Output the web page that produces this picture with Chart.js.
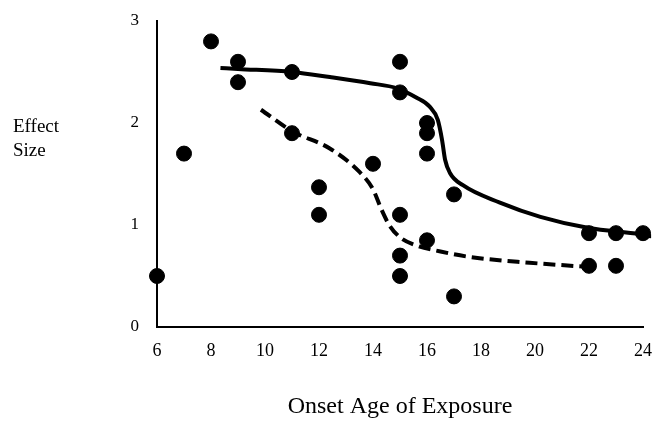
<!DOCTYPE html>
<html>
<head>
<meta charset="utf-8">
<script src="https://cdn.jsdelivr.net/npm/chart.js@4"></script>
<style>
  body { margin: 0; background: #fff; }
  #wrap { position: relative; width: 666px; height: 421px; }
  #ylab { position: absolute; left: 13px; top: 114px; font: 19px "Liberation Serif", serif; line-height: 24px; color: #000; }
</style>
</head>
<body>
<div id="wrap">
  <canvas id="chart" width="666" height="421"></canvas>
  <div id="ylab">Effect<br>Size</div>
</div>
<script>
// observed studies
var ageX = [6, 7, 8, 9, 9, 11, 11, 12, 12, 14, 15, 15, 15, 15, 15, 16, 16, 16, 16, 17, 17, 22, 22, 23, 23, 24];
var effect = [0.5, 1.7, 2.8, 2.6, 2.4, 2.5, 1.9, 1.37, 1.1, 1.6, 2.6, 2.3, 1.1, 0.7, 0.5, 2.0, 1.9, 1.7, 0.85, 1.3, 0.3, 0.92, 0.6, 0.92, 0.6, 0.92];

// fitted curves
var solidX = [8.35, 9, 11, 12.4, 13.9, 14.9, 15.6, 16.1, 16.4, 16.56, 16.67, 16.85, 17.33, 18.7, 20.2, 22, 23.9, 24.3, 24.6];
var solidY = [2.54, 2.53, 2.5, 2.45, 2.39, 2.34, 2.25, 2.16, 2.03, 1.83, 1.64, 1.51, 1.39, 1.22, 1.08, 0.97, 0.91, 0.89, 0.93];
var dashX = [9.85, 11, 12.4, 13.5, 14.0, 14.3, 14.6, 15.0, 15.6, 16.5, 17.5, 19.8, 21.9];
var dashY = [2.13, 1.92, 1.75, 1.52, 1.35, 1.16, 1.0, 0.88, 0.8, 0.74, 0.69, 0.63, 0.59];

var xTicks = [6, 8, 10, 12, 14, 16, 18, 20, 22, 24];
var yTicks = [0, 1, 2, 3];

function pts(xs, ys) {
    return xs.map(function (x, i) { return { x: x, y: ys[i] }; });
}

var serif = '"Liberation Serif", "Times New Roman", serif';

var ctx = document.getElementById('chart').getContext('2d');
var myChart = new Chart(ctx, {
    type: 'scatter',
    data: {
        datasets: [{
            label: 'Studies',
            data: pts(ageX, effect),
            backgroundColor: '#000',
            borderColor: '#000',
            pointRadius: 7.5,
            pointHoverRadius: 7.5,
            clip: false,
            order: 0
        }, {
            label: 'Fit A',
            data: pts(solidX, solidY),
            showLine: true,
            borderColor: '#000',
            borderWidth: 4,
            pointRadius: 0,
            cubicInterpolationMode: 'monotone',
            clip: false,
            order: 1
        }, {
            label: 'Fit B',
            data: pts(dashX, dashY),
            showLine: true,
            borderColor: '#000',
            borderWidth: 4,
            borderDash: [12, 6],
            pointRadius: 0,
            cubicInterpolationMode: 'monotone',
            clip: false,
            order: 2
        }]
    },
    options: {
        responsive: false,
        animation: false,
        layout: { padding: { top: 21, right: 23, left: 0, bottom: 0 } },
        plugins: {
            legend: { display: false },
            tooltip: { enabled: false }
        },
        scales: {
            x: {
                type: 'linear',
                min: 6,
                max: 24,
                afterBuildTicks: function (s) { s.ticks = xTicks.map(function (v) { return { value: v }; }); },
                afterFit: function (s) { s.height = 94; },
                grid: { display: false },
                border: { display: true, color: '#000', width: 2 },
                ticks: { color: '#000', font: { family: serif, size: 18 }, padding: 5, maxRotation: 0 },
                title: {
                    display: true,
                    text: 'Onset Age of Exposure',
                    color: '#000',
                    font: { family: serif, size: 24 },
                    padding: { top: 0, bottom: 0 }
                }
            },
            y: {
                min: 0,
                max: 3,
                afterBuildTicks: function (s) { s.ticks = yTicks.map(function (v) { return { value: v }; }); },
                afterFit: function (s) { s.width = 157; },
                grid: { display: false },
                border: { display: true, color: '#000', width: 2 },
                ticks: { color: '#000', font: { family: serif, size: 17 }, padding: 10 }
            }
        }
    }
});
</script>
</body>
</html>
